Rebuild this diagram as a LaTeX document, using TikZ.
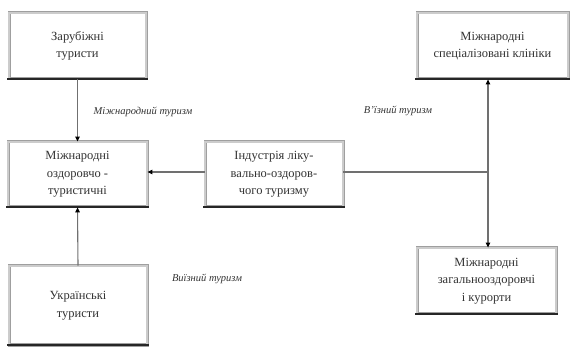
\documentclass[tikz,border=0pt]{standalone}
\usepackage{fontspec}
\setmainfont{Liberation Serif}
\usetikzlibrary{arrows.meta}
\definecolor{txt}{HTML}{333333}
\definecolor{ln}{HTML}{707070}
\tikzset{
  box/.style={draw=gray!75, double=gray!40, double distance=1.4pt, line width=0.8pt,
    fill=white, align=center, text=txt, inner sep=2pt,
    font=\fontsize{12.5}{17.5}\selectfont},
  baseline/.style={line width=2.2pt, black!85},
  conn/.style={ln, line width=1.1pt},
  tip/.style={-{Triangle[length=5pt,width=4.5pt,color=black]}},
  lbl/.style={text=txt, font=\fontsize{10.5}{12}\selectfont\itshape}
}
\begin{document}
\begin{tikzpicture}[x=1pt,y=-1pt]
\useasboundingbox (0,0) rectangle (573,347);
\node[box, minimum width=137pt, minimum height=66pt] (b1) at (77.5,46) {Зарубіжні\\туристи};
\node[box, minimum width=139pt, minimum height=65pt] (b2) at (77.5,174.5) {Міжнародні\\оздоровчо -\\туристичні};
\node[box, minimum width=138pt, minimum height=79pt] (b3) at (78,305.5) {Українські\\туристи};
\node[box, minimum width=138pt, minimum height=65pt] (b4) at (274,174.5) {Індустрія ліку-\\вально-оздоров-\\чого туризму};
\node[box, minimum width=151pt, minimum height=66pt] (b5) at (492.5,46) {Міжнародні\\спеціалізовані клініки};
\node[box, minimum width=139pt, minimum height=66pt] (b6) at (486.5,281) {Міжнародні\\загальнооздоровчі\\і курорти};
\foreach \n in {b1,b2,b3,b4,b5,b6}{
  \draw[baseline] ([xshift=-1.5pt]\n.south west) -- ([xshift=1.5pt]\n.south east);
}
\coordinate (j) at (488,172);
\draw[conn,tip] (b1.south) -- (b2.north);
\draw[conn,tip] (b3.north) -- (b2.south);
\draw[conn,tip] (b4.west |- j) -- (b2.east |- j);
\draw[conn] (b4.east |- j) -- (j);
\draw[conn,tip] (j) -- (j |- b5.south);
\draw[conn,tip] (j) -- (j |- b6.north);
\node[lbl] (l1) at (143,112) {Міжнародний туризм};
\node[lbl] (l2) at (398,111) {В'їзний туризм};
\node[lbl] (l3) at (207,279) {Виїзний туризм};
\end{tikzpicture}
\end{document}
